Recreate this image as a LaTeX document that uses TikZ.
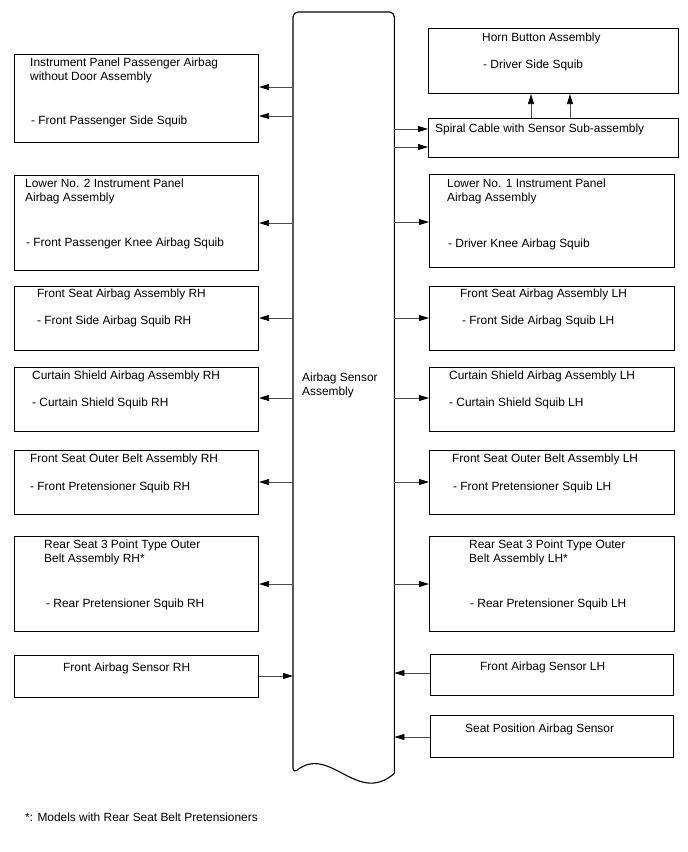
\documentclass[tikz,border=0pt]{standalone}
\usepackage{fontspec}
\setmainfont{Liberation Sans}
\usetikzlibrary{arrows.meta,calc}
\newcommand\bagfont{\fontsize{11.9pt}{14pt}\selectfont}
\begin{document}
\begin{tikzpicture}[x=1pt,y=-1pt,
 box/.style={draw,line width=1.1pt,inner sep=0,anchor=north west},
 lbl/.style={anchor=west,inner sep=0,font=\bagfont,align=left},
 arr/.style={-{Triangle[length=10pt,width=6pt,black]},line width=.8pt,black!70}]
\useasboundingbox(0,0)rectangle(688,852);
\node[inner sep=0,minimum width=101pt,minimum height=761pt,anchor=north west](sas)at(293,12){};
\draw[line width=1.1pt,rounded corners=5pt](sas.south east)--(sas.north east)--(sas.north west)--(sas.south west)[sharp corners]..controls(330,744)and(357,806)..(sas.south east);
\node[lbl](sasT)at(302,385){Airbag Sensor\\Assembly};
% left side
\node[box,minimum width=244pt,minimum height=88pt](ipa)at(14,54){};
\node[lbl](ipaT)at(30,70){Instrument Panel Passenger Airbag\\without Door Assembly};
\node[lbl](ipaS)at(31,121){- Front Passenger Side Squib};
\node[box,minimum width=244pt,minimum height=95pt](lwr2)at(14,175){};
\node[lbl](lwr2T)at(25,191){Lower No. 2 Instrument Panel\\Airbag Assembly};
\node[lbl](lwr2S)at(26,243){- Front Passenger Knee Airbag Squib};
\node[box,minimum width=244pt,minimum height=64pt](fsRH)at(14,286){};
\node[lbl](fsRHT)at(37,294){Front Seat Airbag Assembly RH};
\node[lbl](fsRHS)at(37,321){- Front Side Airbag Squib RH};
\node[box,minimum width=244pt,minimum height=64pt](csRH)at(14,367){};
\node[lbl](csRHT)at(32,376){Curtain Shield Airbag Assembly RH};
\node[lbl](csRHS)at(32,403){- Curtain Shield Squib RH};
\node[box,minimum width=244pt,minimum height=64pt](obRH)at(14,450){};
\node[lbl](obRHT)at(30,459){Front Seat Outer Belt Assembly RH};
\node[lbl](obRHS)at(30,487){- Front Pretensioner Squib RH};
\node[box,minimum width=244pt,minimum height=95pt](rsRH)at(14,536){};
\node[lbl](rsRHT)at(44,552){Rear Seat 3 Point Type Outer\\Belt Assembly RH*};
\node[lbl](rsRHS)at(46,604){- Rear Pretensioner Squib RH};
\node[box,minimum width=244pt,minimum height=42pt](fasRH)at(14,655){};
\node[lbl](fasRHT)at(63,668){Front Airbag Sensor RH};
% right side
\node[box,minimum width=250pt,minimum height=65pt](horn)at(428,28){};
\node[lbl](hornT)at(482,38){Horn Button Assembly};
\node[lbl](hornS)at(483,65){- Driver Side Squib};
\node[box,minimum width=250pt,minimum height=39pt](spc)at(428,118){};
\node[lbl](spcT)at(435,129){Spiral Cable with Sensor Sub-assembly};
\node[box,minimum width=245pt,minimum height=93pt](lwr1)at(429,174){};
\node[lbl](lwr1T)at(447,191){Lower No. 1 Instrument Panel\\Airbag Assembly};
\node[lbl](lwr1S)at(448,244){- Driver Knee Airbag Squib};
\node[box,minimum width=245pt,minimum height=64pt](fsLH)at(429,286){};
\node[lbl](fsLHT)at(460,294){Front Seat Airbag Assembly LH};
\node[lbl](fsLHS)at(462,321){- Front Side Airbag Squib LH};
\node[box,minimum width=245pt,minimum height=64pt](csLH)at(429,367){};
\node[lbl](csLHT)at(449,376){Curtain Shield Airbag Assembly LH};
\node[lbl](csLHS)at(449,403){- Curtain Shield Squib LH};
\node[box,minimum width=245pt,minimum height=64pt](obLH)at(429,450){};
\node[lbl](obLHT)at(452,459){Front Seat Outer Belt Assembly LH};
\node[lbl](obLHS)at(453,487){- Front Pretensioner Squib LH};
\node[box,minimum width=245pt,minimum height=95pt](rsLH)at(429,536){};
\node[lbl](rsLHT)at(469,552){Rear Seat 3 Point Type Outer\\Belt Assembly LH*};
\node[lbl](rsLHS)at(470,604){- Rear Pretensioner Squib LH};
\node[box,minimum width=243pt,minimum height=41pt](fasLH)at(430,654){};
\node[lbl](fasLHT)at(480,667){Front Airbag Sensor LH};
\node[box,minimum width=243pt,minimum height=42pt](spas)at(430,715){};
\node[lbl](spasT)at(465,729){Seat Position Airbag Sensor};
\node[lbl](note)at(25,817){*: Models with Rear Seat Belt Pretensioners};
% connectors
\draw[arr](sas.west|-0,87)--(ipa.east|-0,87);\draw[arr](sas.west|-0,116)--(ipa.east|-0,116);
\draw[arr](sas.west|-0,223)--(lwr2.east|-0,223);\draw[arr](sas.west|-0,318)--(fsRH.east|-0,318);
\draw[arr](sas.west|-0,398)--(csRH.east|-0,398);\draw[arr](sas.west|-0,482)--(obRH.east|-0,482);
\draw[arr](sas.west|-0,584)--(rsRH.east|-0,584);\draw[arr](fasRH.east|-0,676)--(sas.west|-0,676);
\draw[arr](sas.east|-0,129)--(spc.west|-0,129);\draw[arr](sas.east|-0,147)--(spc.west|-0,147);
\draw[arr](spc.north-|531,0)--(horn.south-|531,0);\draw[arr](spc.north-|570,0)--(horn.south-|570,0);
\draw[arr](sas.east|-0,222)--(lwr1.west|-0,222);\draw[arr](sas.east|-0,318)--(fsLH.west|-0,318);
\draw[arr](sas.east|-0,398)--(csLH.west|-0,398);\draw[arr](sas.east|-0,482)--(obLH.west|-0,482);
\draw[arr](sas.east|-0,584)--(rsLH.west|-0,584);\draw[arr](fasLH.west|-0,673)--(sas.east|-0,673);
\draw[arr](spas.west|-0,737)--(sas.east|-0,737);
\end{tikzpicture}
\end{document}
